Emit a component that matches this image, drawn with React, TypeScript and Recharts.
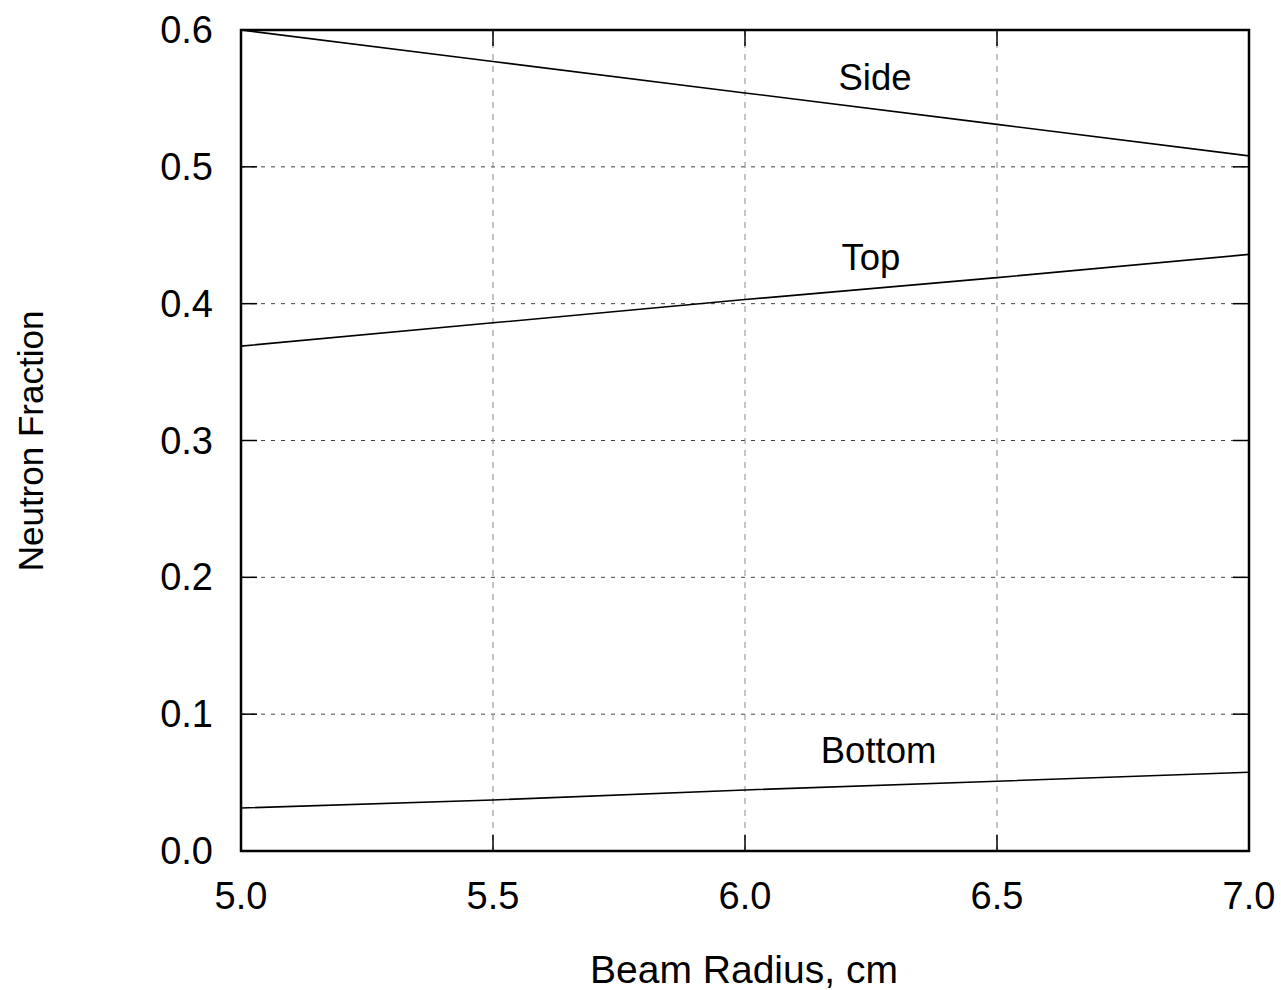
import { LineChart, Line, XAxis, YAxis, CartesianGrid, ReferenceArea, ReferenceDot } from 'recharts';

// beam radius (cm) and neutron fraction
const radius = [5.0, 5.5, 6.0, 6.5, 7.0];
const sideFraction = [0.6, 0.577, 0.554, 0.531, 0.508];
const topFraction = [0.369, 0.386, 0.403, 0.419, 0.436];
const bottomFraction = [0.0314, 0.0373, 0.0446, 0.051, 0.0575];

const xTicks = [5.0, 5.5, 6.0, 6.5, 7.0];
const yTicks = [0, 0.1, 0.2, 0.3, 0.4, 0.5, 0.6];

// curve annotations: [name, x, y]
const curveNotes: [string, number, number][] = [
  ['Side', 6.258, 0.556],
  ['Top', 6.25, 0.4246],
  ['Bottom', 6.265, 0.0641],
];

const data = radius.map((r, i) => ({
  r,
  side: sideFraction[i],
  top: topFraction[i],
  bottom: bottomFraction[i],
}));

const FONT = '"Liberation Sans", Arial, Helvetica, sans-serif';
const PLOT_LEFT = 241;
const PLOT_RIGHT = 1249;
const PLOT_TOP = 30;
const PLOT_BOTTOM = 851;
const TICK_LEN = 16;

function XTick(props: any) {
  const { x, payload } = props;
  return (
    <g>
      <line x1={x} y1={PLOT_BOTTOM} x2={x} y2={PLOT_BOTTOM - TICK_LEN} stroke="#000" strokeWidth={1.5} />
      <line x1={x} y1={PLOT_TOP} x2={x} y2={PLOT_TOP + TICK_LEN} stroke="#000" strokeWidth={1.5} />
      <text x={x} y={909} textAnchor="middle" fontSize={38} fontFamily={FONT} fill="#000">
        {Number(payload.value).toFixed(1)}
      </text>
    </g>
  );
}

function YTick(props: any) {
  const { y, payload } = props;
  return (
    <g>
      <line x1={PLOT_LEFT} y1={y} x2={PLOT_LEFT + TICK_LEN} y2={y} stroke="#000" strokeWidth={1.5} />
      <line x1={PLOT_RIGHT - TICK_LEN} y1={y} x2={PLOT_RIGHT} y2={y} stroke="#000" strokeWidth={1.5} />
      <text x={213} y={y + 13} textAnchor="end" fontSize={38} fontFamily={FONT} fill="#000">
        {Number(payload.value).toFixed(1)}
      </text>
    </g>
  );
}

export default function App() {
  return (
    <div style={{ position: 'absolute', left: 0, top: 0, width: 1281, height: 990, background: '#fff' }}>
      <LineChart
        width={1281}
        height={990}
        data={data}
        margin={{ top: PLOT_TOP, right: 1281 - PLOT_RIGHT, bottom: 0, left: 0 }}
      >
        <CartesianGrid horizontal={true} vertical={false} stroke="#444" strokeDasharray="4 6" />
        <CartesianGrid horizontal={false} vertical={true} stroke="#888" strokeDasharray="6 6" />
        <XAxis
          dataKey="r"
          type="number"
          domain={[5, 7]}
          ticks={xTicks}
          height={990 - PLOT_BOTTOM}
          axisLine={false}
          tickLine={false}
          tickSize={0}
          tickMargin={0}
          tick={<XTick />}
          interval={0}
          label={{
            content: () => (
              <text x={(PLOT_LEFT + PLOT_RIGHT) / 2 - 1} y={983} textAnchor="middle" fontSize={39} fontFamily={FONT} fill="#000">
                Beam Radius, cm
              </text>
            ),
          }}
        />
        <YAxis
          type="number"
          domain={[0, 0.6]}
          ticks={yTicks}
          width={PLOT_LEFT}
          axisLine={false}
          tickLine={false}
          tickSize={0}
          tickMargin={0}
          tick={<YTick />}
          interval={0}
          label={{
            content: () => (
              <text
                x={43}
                y={441}
                transform="rotate(-90, 43, 441)"
                textAnchor="middle"
                fontSize={35}
                fontFamily={FONT}
                fill="#000"
              >
                Neutron Fraction
              </text>
            ),
          }}
        />
        <Line dataKey="side" stroke="#000" strokeWidth={1.6} dot={false} isAnimationActive={false} />
        <Line dataKey="top" stroke="#000" strokeWidth={1.6} dot={false} isAnimationActive={false} />
        <Line dataKey="bottom" stroke="#000" strokeWidth={1.6} dot={false} isAnimationActive={false} />
        <ReferenceArea x1={5} x2={7} y1={0} y2={0.6} stroke="#000" strokeWidth={2.5} fill="none" fillOpacity={0} />
        {curveNotes.map(([name, x, y]) => (
          <ReferenceDot
            key={name}
            x={x}
            y={y}
            r={0}
            fill="none"
            stroke="none"
            label={{
              content: (p: any) => {
                const vb = p.viewBox || {};
                const cx = (vb.x ?? 0) + (vb.width ?? 0) / 2;
                const cy = (vb.y ?? 0) + (vb.height ?? 0) / 2;
                return (
                  <text x={cx} y={cy} textAnchor="middle" fontSize={36.5} fontFamily={FONT} fill="#000">
                    {name}
                  </text>
                );
              },
            }}
          />
        ))}
      </LineChart>
    </div>
  );
}
